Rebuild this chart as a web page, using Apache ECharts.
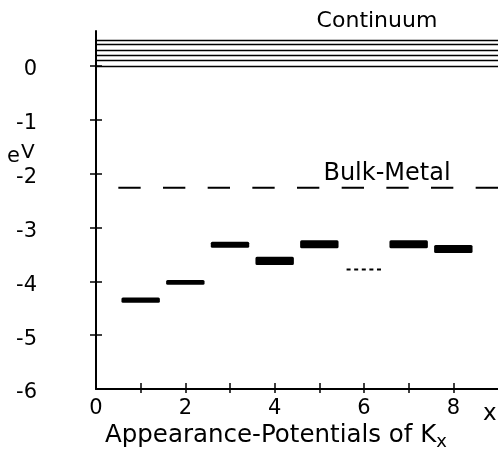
<!DOCTYPE html>
<html>
<head>
<meta charset="utf-8">
<script src="https://cdn.jsdelivr.net/npm/echarts@6/dist/echarts.min.js"></script>
<style>
  html, body { margin: 0; padding: 0; background: #fff; }
  #chart { width: 498px; height: 450px; }
</style>
</head>
<body>
<div id="chart"></div>
<script>
// Cluster size x of K_x and the energy levels (eV) read as appearance potentials
const clusterSize = [1, 2, 3, 4, 5, 7, 8];
const levelEnergy = [-4.35, -4.02, -3.32, -3.62, -3.31, -3.31, -3.40];
const levelSpread = [0.10, 0.09, 0.11, 0.15, 0.15, 0.15, 0.15];

// Uncertain level (drawn dashed)
const uncertainSize = [6];
const uncertainEnergy = [-3.78];

// Bulk metal work function and continuum onset levels (eV)
const bulkMetalEnergy = -2.26;
const continuumLevels = [0, 0.1, 0.2, 0.3, 0.4, 0.48];

// Axis ticks and labels
const xTicks = [1, 2, 3, 4, 5, 6, 7, 8];
const xTickLabels = [0, 2, 4, 6, 8];
const yTicks = [-5, -4, -3, -2, -1, 0];
const yTickLabels = [-6, -5, -4, -3, -2, -1, 0];

const FONT = "'DejaVu Sans', sans-serif";
const GRID = { left: 96, top: 31, width: 402, height: 358 };
const X_MIN = 0, X_MAX = 9, Y_MIN = -6, Y_MAX = 0.65;
const HALF_BAR = 0.43;      // half length of a level bar, in x units
const HALF_DASHED = 0.39;
const halfUnitPx = GRID.width / (X_MAX - X_MIN) / 2;

const chart = echarts.init(document.getElementById('chart'), null, { renderer: 'canvas' });

const axisLineStyle = { color: '#000', width: 2 };

function xAxisBase(extra) {
  return Object.assign({
    type: 'value', min: X_MIN, max: X_MAX, position: 'bottom',
    splitLine: { show: false }
  }, extra);
}
function yAxisBase(extra) {
  return Object.assign({
    type: 'value', min: Y_MIN, max: Y_MAX, position: 'left',
    splitLine: { show: false }
  }, extra);
}

function label(text, x, y, size, extra) {
  return {
    type: 'text', x: x, y: y, silent: true,
    style: Object.assign({
      text: text, fontFamily: FONT, fontSize: size, fill: '#000',
      textAlign: 'left', textVerticalAlign: 'middle'
    }, extra || {})
  };
}

const option = {
  animation: false,
  backgroundColor: '#fff',
  grid: Object.assign({ containLabel: false }, GRID),
  xAxis: [
    xAxisBase({
      axisLine: { show: true, onZero: false, lineStyle: axisLineStyle },
      axisTick: { show: true, inside: true, length: 6, customValues: xTicks,
                  lineStyle: { color: '#000', width: 1.5 } },
      axisLabel: { show: true, customValues: xTickLabels, color: '#000',
                   fontFamily: FONT, fontSize: 21, margin: 9 }
    }),
    xAxisBase({
      axisLine: { show: false, onZero: false },
      axisTick: { show: true, inside: false, length: 4, customValues: xTicks,
                  lineStyle: { color: '#000', width: 1.5 } },
      axisLabel: { show: false }
    })
  ],
  yAxis: [
    yAxisBase({
      axisLine: { show: true, onZero: false, lineStyle: axisLineStyle },
      axisTick: { show: true, inside: true, length: 6, customValues: yTicks,
                  lineStyle: { color: '#000', width: 1.5 } },
      axisLabel: { show: true, customValues: yTickLabels, color: '#000',
                   fontFamily: FONT, fontSize: 21, margin: 59,
                   verticalAlign: 'top', lineHeight: 8 }
    }),
    yAxisBase({
      axisLine: { show: false, onZero: false },
      axisTick: { show: true, inside: false, length: 6, customValues: yTicks,
                  lineStyle: { color: '#000', width: 1.5 } },
      axisLabel: { show: false }
    })
  ],
  series: [
    {
      name: 'levels',
      type: 'custom',
      xAxisIndex: 0, yAxisIndex: 0,
      data: clusterSize.map((x, i) => [x, levelEnergy[i], levelSpread[i]]),
      renderItem: function (params, api) {
        const x = api.value(0), e = api.value(1), s = api.value(2);
        const p1 = api.coord([x - HALF_BAR, e + s / 2]);
        const p2 = api.coord([x + HALF_BAR, e - s / 2]);
        return {
          type: 'rect',
          shape: { x: p1[0], y: p1[1], width: p2[0] - p1[0], height: p2[1] - p1[1], r: 1.5 },
          style: { fill: '#000' }
        };
      },
      markLine: {
        silent: true,
        symbol: 'none',
        label: { show: false },
        lineStyle: { color: '#000', width: 1.4, type: 'solid' },
        data: continuumLevels.map(v => ({ yAxis: v }))
      }
    },
    {
      name: 'uncertain',
      type: 'custom',
      xAxisIndex: 0, yAxisIndex: 0,
      data: uncertainSize.map((x, i) => [x, uncertainEnergy[i]]),
      renderItem: function (params, api) {
        const x = api.value(0), e = api.value(1);
        const p1 = api.coord([x - HALF_DASHED, e]);
        const p2 = api.coord([x + HALF_DASHED, e]);
        return {
          type: 'line',
          shape: { x1: p1[0], y1: p1[1], x2: p2[0], y2: p2[1] },
          style: { stroke: '#000', lineWidth: 2, lineDash: [4, 3.6] }
        };
      }
    },
    {
      name: 'Bulk-Metal',
      type: 'line',
      xAxisIndex: 0, yAxisIndex: 0,
      symbol: 'none',
      silent: true,
      data: [[0.5, bulkMetalEnergy], [X_MAX, bulkMetalEnergy]],
      lineStyle: { color: '#000', width: 2, type: [halfUnitPx, halfUnitPx] }
    }
  ],
  graphic: [
    label('Continuum', 377, 21, 22, { textAlign: 'center' }),
    label('Bulk-Metal', 387, 174, 24, { textAlign: 'center' }),
    label('e', 7, 157, 21),
    label('V', 21, 153, 20),
    label('x', 483, 414, 23),
    {
      type: 'text', x: 105, y: 436, silent: true,
      style: {
        text: '{a|Appearance-Potentials of K}{s|x}',
        textAlign: 'left', textVerticalAlign: 'middle', fill: '#000',
        rich: {
          a: { fontFamily: FONT, fontSize: 24.5, color: '#000' },
          s: { fontFamily: FONT, fontSize: 18, color: '#000', padding: [12, 0, 0, 0] }
        }
      }
    }
  ]
};

chart.setOption(option);
</script>
</body>
</html>
